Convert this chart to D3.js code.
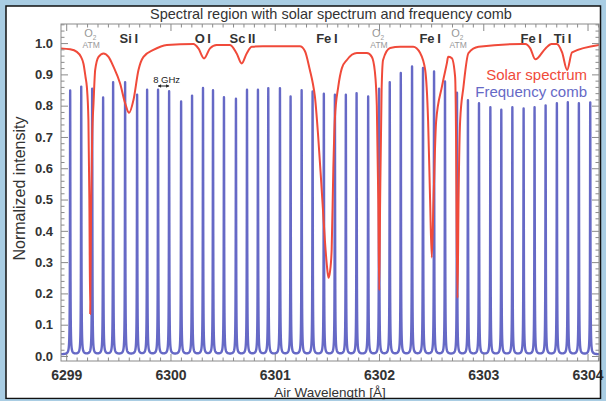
<!DOCTYPE html>
<html><head><meta charset="utf-8">
<script src="https://cdn.jsdelivr.net/npm/d3@7"></script>
<style>
html,body{margin:0;padding:0;background:#a9cde3;}
svg{display:block;}
text{font-family:"Liberation Sans",Arial,Helvetica,sans-serif;}
</style></head>
<body>
<svg id="chart" width="606" height="401"></svg>
<script>
// ---------------- DATA ----------------
const xTickValues = [6299, 6300, 6301, 6302, 6303, 6304];
const yTickValues = [0.0, 0.1, 0.2, 0.3, 0.4, 0.5, 0.6, 0.7, 0.8, 0.9, 1.0];

// frequency comb: line centres [Å] and peak heights
const combCenters = [6299.038, 6299.144, 6299.249, 6299.354, 6299.450, 6299.565, 6299.680, 6299.776,
  6299.881, 6299.987, 6300.102, 6300.207, 6300.312, 6300.408, 6300.513, 6300.628, 6300.734, 6300.839,
  6300.938, 6301.050, 6301.152, 6301.258, 6301.363, 6301.471, 6301.577, 6301.682, 6301.785, 6301.896,
  6302.001, 6302.103, 6302.209, 6302.317, 6302.422, 6302.528, 6302.633, 6302.748, 6302.853, 6302.959,
  6303.068, 6303.173, 6303.279, 6303.387, 6303.492, 6303.598, 6303.706, 6303.811, 6303.917, 6304.026];
const combHeights = [0.848, 0.860, 0.853, 0.825, 0.874, 0.874, 0.834, 0.850,
  0.850, 0.845, 0.812, 0.831, 0.855, 0.848, 0.826, 0.821, 0.850, 0.850,
  0.855, 0.855, 0.828, 0.848, 0.844, 0.837, 0.834, 0.834, 0.839, 0.828,
  0.853, 0.874, 0.903, 0.924, 0.919, 0.908, 0.876, 0.840, 0.816, 0.807,
  0.794, 0.786, 0.794, 0.790, 0.794, 0.800, 0.807, 0.810, 0.807, 0.810];
const combBaseline = 0.005;
const combLineWidth = 0.0022; // Å, half width of each comb line

// solar spectrum samples (wavelength [Å], normalized intensity)
const solarWavelengths = [6298.94, 6299.038, 6299.102, 6299.143, 6299.165, 6299.186, 6299.198, 6299.213,
  6299.222, 6299.230, 6299.238, 6299.249, 6299.262, 6299.278, 6299.310, 6299.358, 6299.406, 6299.454,
  6299.517, 6299.565, 6299.603, 6299.645, 6299.693, 6299.741, 6299.836, 6299.965, 6300.220, 6300.268,
  6300.322, 6300.379, 6300.443, 6300.571, 6300.635, 6300.683, 6300.731, 6300.779, 6300.887, 6301.241,
  6301.289, 6301.337, 6301.366, 6301.385, 6301.417, 6301.443, 6301.462, 6301.481, 6301.500, 6301.515,
  6301.530, 6301.546, 6301.562, 6301.577, 6301.609, 6301.644, 6301.692, 6301.788, 6301.884, 6301.931,
  6301.960, 6301.979, 6301.993, 6302.002, 6302.011, 6302.025, 6302.039, 6302.107, 6302.203, 6302.328,
  6302.395, 6302.443, 6302.471, 6302.490, 6302.506, 6302.523, 6302.548, 6302.603, 6302.651, 6302.663,
  6302.698, 6302.730, 6302.739, 6302.745, 6302.753, 6302.763, 6302.778, 6302.810, 6302.858, 6302.955,
  6303.367, 6303.403, 6303.451, 6303.499, 6303.597, 6303.654, 6303.705, 6303.756, 6303.804, 6303.852,
  6304.12];
const solarIntensities = [0.983, 0.980, 0.972, 0.955, 0.935, 0.890, 0.860, 0.754,
  0.500, 0.134, 0.450, 0.700, 0.808, 0.914, 0.956, 0.967, 0.956, 0.924,
  0.871, 0.808, 0.777, 0.818, 0.914, 0.956, 0.978, 0.994, 0.997, 0.983,
  0.951, 0.983, 0.994, 0.994, 0.967, 0.935, 0.967, 0.988, 0.990, 0.990,
  0.975, 0.914, 0.870, 0.830, 0.700, 0.570, 0.470, 0.370, 0.290, 0.250,
  0.270, 0.340, 0.600, 0.760, 0.860, 0.920, 0.946, 0.968, 0.968, 0.956,
  0.910, 0.800, 0.500, 0.210, 0.500, 0.850, 0.946, 0.984, 0.988, 0.988,
  0.968, 0.914, 0.750, 0.500, 0.315, 0.500, 0.750, 0.860, 0.936, 0.956,
  0.952, 0.892, 0.700, 0.400, 0.185, 0.500, 0.750, 0.860, 0.968, 0.988,
  0.997, 0.997, 0.983, 0.948, 0.983, 0.997, 0.997, 0.970, 0.914, 0.970, 0.994,
  0.997];

// line identifications
const elementLabels = ["Si\u2009I", "O\u2009I", "Sc\u2009II", "Fe\u2009I", "Fe\u2009I", "Fe\u2009I", "Ti\u2009I"];
const elementWavelengths = [6299.60, 6300.31, 6300.69, 6301.50, 6302.49, 6303.46, 6303.76];
const atmWavelengths = [6299.24, 6302.00, 6302.76];

const titleText = "Spectral region with solar spectrum and frequency comb";
const xTitle = "Air Wavelength [\u00c5]";
const yTitle = "Normalized intensity";
const legendLabels = ["Solar spectrum", "Frequency comb"];

// ---------------- LAYOUT ----------------
const W = 606, H = 401;
const P = {l: 61, r: 599, t: 24, b: 361};
const RED = "#f04a3a", BLUE = "#6669c6", AXIS = "#8a8a8a", TXT = "#333";

const svg = d3.select("#chart");
svg.append("rect").attr("x", 6).attr("y", 6).attr("width", 595).attr("height", 393)
  .attr("fill", "#fff");

const x = d3.scaleLinear().domain([6298.95, 6304.11]).range([P.l, P.r]);
const y = d3.scaleLinear().domain([-0.016, 1.061]).range([P.b, P.t]);

svg.append("clipPath").attr("id", "clip").append("rect")
  .attr("x", P.l).attr("y", P.t).attr("width", P.r - P.l).attr("height", P.b - P.t);

// comb curve built from its line centres/heights (Lorentzian line shape)
function combAt(w) {
  let v = combBaseline;
  for (let i = 0; i < combCenters.length; i++) {
    const d = (w - combCenters[i]) / combLineWidth;
    v += (combHeights[i] - combBaseline) / (1 + d * d);
  }
  return v;
}
const step = 0.0004;
const combPts = [];
for (let w = 6298.95; w <= 6304.11 + 1e-9; w += step) combPts.push([w, combAt(w)]);
combCenters.forEach(c => combPts.push([c, combAt(c)]));
combPts.sort((a, b) => a[0] - b[0]);

const g = svg.append("g").attr("clip-path", "url(#clip)");
g.append("path").datum(combPts)
  .attr("fill", "none").attr("stroke", BLUE).attr("stroke-width", 2.4).attr("stroke-linejoin", "round")
  .attr("d", d3.line().x(d => x(d[0])).y(d => y(d[1])));

const solar = solarWavelengths.map((w, i) => [w, solarIntensities[i]]);
g.append("path").datum(solar)
  .attr("fill", "none").attr("stroke", RED).attr("stroke-width", 2).attr("stroke-linejoin", "round")
  .attr("d", d3.line().curve(d3.curveMonotoneX).x(d => x(d[0])).y(d => y(d[1])));

// ---------------- AXES ----------------
const xMinor = d3.range(6299, 6304.11, 0.1).filter(v => Math.abs(v - Math.round(v)) > 1e-6);
const yMinor = d3.range(0, 1.061, 0.02).filter(v => Math.abs(v * 10 - Math.round(v * 10)) > 1e-6);

function styleAxis(sel, fs) {
  sel.selectAll(".domain").remove();
  sel.selectAll(".tick line").attr("stroke", AXIS).attr("stroke-width", 1);
  sel.selectAll(".tick text").attr("fill", TXT).attr("font-size", fs || 13).attr("font-weight", "bold")
    .attr("font-family", "Liberation Sans, Arial, sans-serif");
}
// bottom
svg.append("g").attr("transform", `translate(0,${P.b})`)
  .call(d3.axisBottom(x).tickValues(xTickValues).tickSize(-7).tickPadding(9).tickFormat(d3.format("d")))
  .call(s => styleAxis(s, 14));
svg.append("g").attr("transform", `translate(0,${P.b})`)
  .call(d3.axisBottom(x).tickValues(xMinor).tickSize(-3.5).tickFormat(""))
  .call(s => styleAxis(s));
// top
svg.append("g").attr("transform", `translate(0,${P.t})`)
  .call(d3.axisTop(x).tickValues(xTickValues).tickSize(-7).tickFormat(""))
  .call(s => styleAxis(s));
svg.append("g").attr("transform", `translate(0,${P.t})`)
  .call(d3.axisTop(x).tickValues(xMinor).tickSize(-3.5).tickFormat(""))
  .call(s => styleAxis(s));
// left
svg.append("g").attr("transform", `translate(${P.l},0)`)
  .call(d3.axisLeft(y).tickValues(yTickValues).tickSize(-7).tickPadding(8).tickFormat(d3.format(".1f")))
  .call(s => styleAxis(s, 13));
svg.append("g").attr("transform", `translate(${P.l},0)`)
  .call(d3.axisLeft(y).tickValues(yMinor).tickSize(-3.5).tickFormat(""))
  .call(s => styleAxis(s));
// right
svg.append("g").attr("transform", `translate(${P.r},0)`)
  .call(d3.axisRight(y).tickValues(yTickValues).tickSize(-7).tickFormat(""))
  .call(s => styleAxis(s));
svg.append("g").attr("transform", `translate(${P.r},0)`)
  .call(d3.axisRight(y).tickValues(yMinor).tickSize(-3.5).tickFormat(""))
  .call(s => styleAxis(s));

svg.append("rect").attr("x", P.l).attr("y", P.t).attr("width", P.r - P.l).attr("height", P.b - P.t)
  .attr("fill", "none").attr("stroke", AXIS).attr("stroke-width", 1);

// ---------------- TEXT ----------------
svg.append("text").attr("x", 331).attr("y", 19).attr("text-anchor", "middle")
  .attr("font-size", 14.5).attr("fill", TXT).text(titleText);
svg.append("text").attr("x", 330).attr("y", 397).attr("text-anchor", "middle")
  .attr("font-size", 13.5).attr("fill", TXT).text(xTitle);
svg.append("text").attr("transform", `translate(25,${(P.t + P.b) / 2 - 4}) rotate(-90)`).attr("text-anchor", "middle")
  .attr("font-size", 16).attr("fill", TXT).text(yTitle);

// element labels
elementLabels.forEach((t, i) => {
  svg.append("text").attr("x", x(elementWavelengths[i])).attr("y", 43).attr("text-anchor", "middle")
    .attr("font-size", 13).attr("font-weight", "bold").attr("fill", TXT).text(t);
});
// atmospheric O2 labels
atmWavelengths.forEach(w => {
  const t = svg.append("text").attr("x", x(w) - 1).attr("y", 37).attr("text-anchor", "middle")
    .attr("font-size", 11).attr("fill", "#999");
  t.append("tspan").text("O");
  t.append("tspan").attr("font-size", 6.5).attr("dy", 2.5).text("2");
  svg.append("text").attr("x", x(w)).attr("y", 47.5).attr("text-anchor", "middle")
    .attr("font-size", 8.5).attr("fill", "#999").text("ATM");
});

// 8 GHz spacing annotation between two comb lines
const a0 = x(combCenters[8]), a1 = x(combCenters[9]);
svg.append("text").attr("x", (a0 + a1) / 2 + 3).attr("y", 83).attr("text-anchor", "middle")
  .attr("font-size", 9.5).attr("fill", "#222").text("8 GHz");
svg.append("line").attr("x1", a0).attr("x2", a1).attr("y1", 86).attr("y2", 86)
  .attr("stroke", "#222").attr("stroke-width", 1);
svg.append("path").attr("d", `M${a0},86 l3,-1.8 v3.6 Z M${a1},86 l-3,-1.8 v3.6 Z`).attr("fill", "#222");

// legend
svg.append("text").attr("x", 587).attr("y", 80).attr("text-anchor", "end")
  .attr("font-size", 15).attr("fill", RED).text(legendLabels[0]);
svg.append("text").attr("x", 587).attr("y", 97).attr("text-anchor", "end")
  .attr("font-size", 15).attr("fill", BLUE).text(legendLabels[1]);

// outer black frame
svg.append("rect").attr("x", 6).attr("y", 6).attr("width", 594.5).attr("height", 392.5)
  .attr("fill", "none").attr("stroke", "#111").attr("stroke-width", 1.5);
svg.append("rect").attr("x", 0).attr("y", 399.3).attr("width", 606).attr("height", 2).attr("fill", "#a9cde3");
</script>
</body></html>
